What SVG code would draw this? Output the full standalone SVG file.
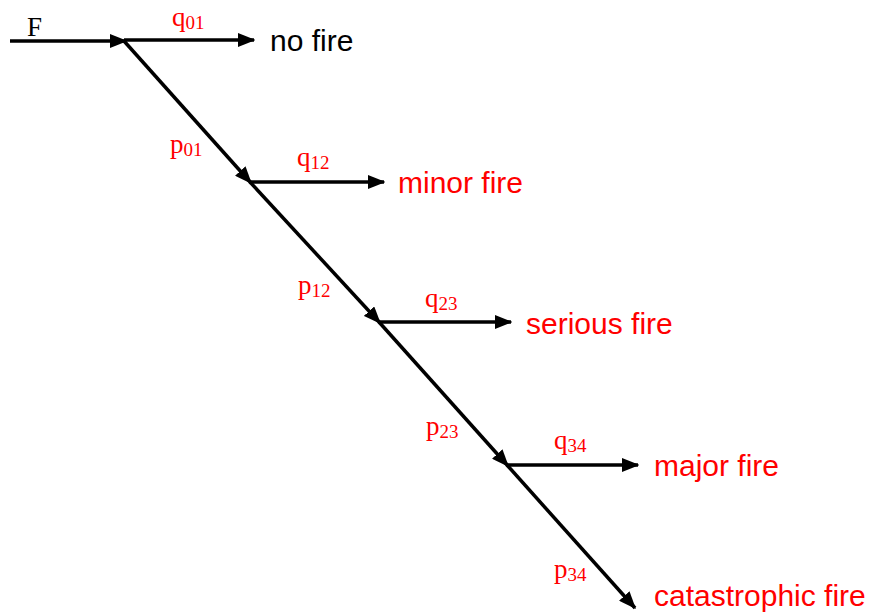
<svg xmlns="http://www.w3.org/2000/svg" width="869" height="613" viewBox="0 0 869 613">
<defs>
<marker id="ah" markerWidth="5" markerHeight="4" refX="4.6" refY="2" orient="auto" markerUnits="strokeWidth">
<path d="M0,0 L5,2 L0,4 Z" fill="#000"/>
</marker>
<style>
.ln{stroke:#000;stroke-width:3.5;fill:none;marker-end:url(#ah)}
.lb{font-family:"Liberation Serif","Times New Roman",serif;font-size:27px;fill:#ff0000}
.lb tspan.s{font-size:19px}
.out{font-family:"Liberation Sans",Arial,sans-serif;font-size:30px;fill:#ff0000}
</style>
</defs>
<rect width="869" height="613" fill="#fff"/>
<g id="connectors">
<line class="ln" x1="10" y1="41" x2="126" y2="41"/>
<line class="ln" x1="124" y1="40" x2="254" y2="40"/>
<line class="ln" x1="124" y1="41" x2="251" y2="183"/>
<line class="ln" x1="250" y1="182" x2="384" y2="182"/>
<line class="ln" x1="250" y1="182" x2="380" y2="323"/>
<line class="ln" x1="379" y1="322" x2="511" y2="322"/>
<line class="ln" x1="379" y1="322" x2="508" y2="466"/>
<line class="ln" x1="507" y1="465" x2="638" y2="465"/>
<line class="ln" x1="507" y1="465" x2="635" y2="608"/>
</g>
<g id="labels">
<text x="27" y="36" font-family="Liberation Serif,serif" font-size="27" fill="#000">F</text>
<text class="lb" x="172" y="26">q<tspan class="s" dy="3">01</tspan></text>
<text class="lb" x="170" y="153">p<tspan class="s" dy="3">01</tspan></text>
<text class="lb" x="297" y="166">q<tspan class="s" dy="3">12</tspan></text>
<text class="lb" x="298" y="294">p<tspan class="s" dy="3">12</tspan></text>
<text class="lb" x="425" y="307">q<tspan class="s" dy="3">23</tspan></text>
<text class="lb" x="426" y="435">p<tspan class="s" dy="3">23</tspan></text>
<text class="lb" x="554" y="449">q<tspan class="s" dy="3">34</tspan></text>
<text class="lb" x="554" y="578">p<tspan class="s" dy="3">34</tspan></text>
</g>
<g id="no-fire"><text class="out" x="270" y="51" style="fill:#000">no fire</text></g>
<g id="minor-fire"><text class="out" x="398" y="193">minor fire</text></g>
<g id="serious-fire"><text class="out" x="526" y="334">serious fire</text></g>
<g id="major-fire"><text class="out" x="654" y="476">major fire</text></g>
<g id="catastrophic-fire"><text class="out" x="654" y="606">catastrophic fire</text></g>
</svg>
